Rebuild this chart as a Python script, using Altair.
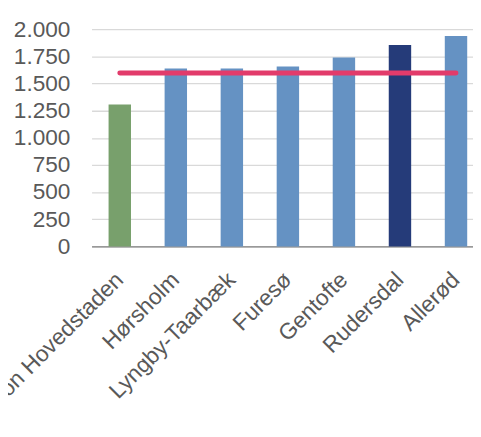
import altair as alt
import pandas as pd

kategorier = ["Region Hovedstaden", "Hørsholm", "Lyngby-Taarbæk", "Furesø",
              "Gentofte", "Rudersdal", "Allerød"]
vaerdier = [1306, 1638, 1638, 1656, 1738, 1855, 1937]
grupper = ["region", "kommune", "kommune", "kommune", "kommune", "valgt", "kommune"]
gennemsnit = 1596
y_ticks = [0, 250, 500, 750, 1000, 1250, 1500, 1750, 2000]

df = pd.DataFrame({"kategori": kategorier, "vaerdi": vaerdier, "gruppe": grupper})

FONT = "Liberation Sans"
TXT = "#595959"
FS = 23

x_scale = alt.Scale(paddingInner=0.6, paddingOuter=0.2035, align=0.746)
x_axis = alt.Axis(labelAngle=-45, labelAlign="right", labelBaseline="middle",
                  labelPadding=30, ticks=False, tickSize=0, labelFont=FONT,
                  labelFontSize=FS, labelColor=TXT, labelLimit=0, labelOverlap=False,
                  labelBound=False, domainColor="#808080", domainWidth=1.2, grid=False)
y_scale = alt.Scale(domain=[0, 2000], nice=False)
y_axis = alt.Axis(values=y_ticks, labelExpr="replace(format(datum.value, ','), ',', '.')",
                  ticks=False, tickSize=0, domain=False, labelPadding=22,
                  labelOverlap=False, labelBound=False,
                  labelFont=FONT, labelFontSize=FS, labelColor=TXT,
                  gridColor="#D9D9D9", gridWidth=1.3)

bars = alt.Chart(df).mark_bar().encode(
    x=alt.X("kategori:N", sort=kategorier, title=None, scale=x_scale, axis=x_axis),
    y=alt.Y("vaerdi:Q", title=None, scale=y_scale, axis=y_axis),
    color=alt.Color("gruppe:N", legend=None,
                    scale=alt.Scale(domain=["region", "kommune", "valgt"],
                                    range=["#78A06C", "#6592C3", "#253B79"])),
)

line = alt.Chart(df).mark_line(color="#E23B6B", strokeWidth=5, strokeCap="round").encode(
    x=alt.X("kategori:N", sort=kategorier, title=None, scale=x_scale, axis=x_axis),
    y=alt.YDatum(gennemsnit, type="quantitative", title=None, scale=y_scale, axis=y_axis),
)

chart = alt.layer(bars, line).properties(
    width=388, height=221,
    autosize=alt.AutoSizeParams(type="none"),
    padding={"left": 85, "top": 18, "right": 0, "bottom": 170},
).configure_view(stroke=None)

chart.save("out.html", embed_options={"renderer": "svg", "actions": False})
